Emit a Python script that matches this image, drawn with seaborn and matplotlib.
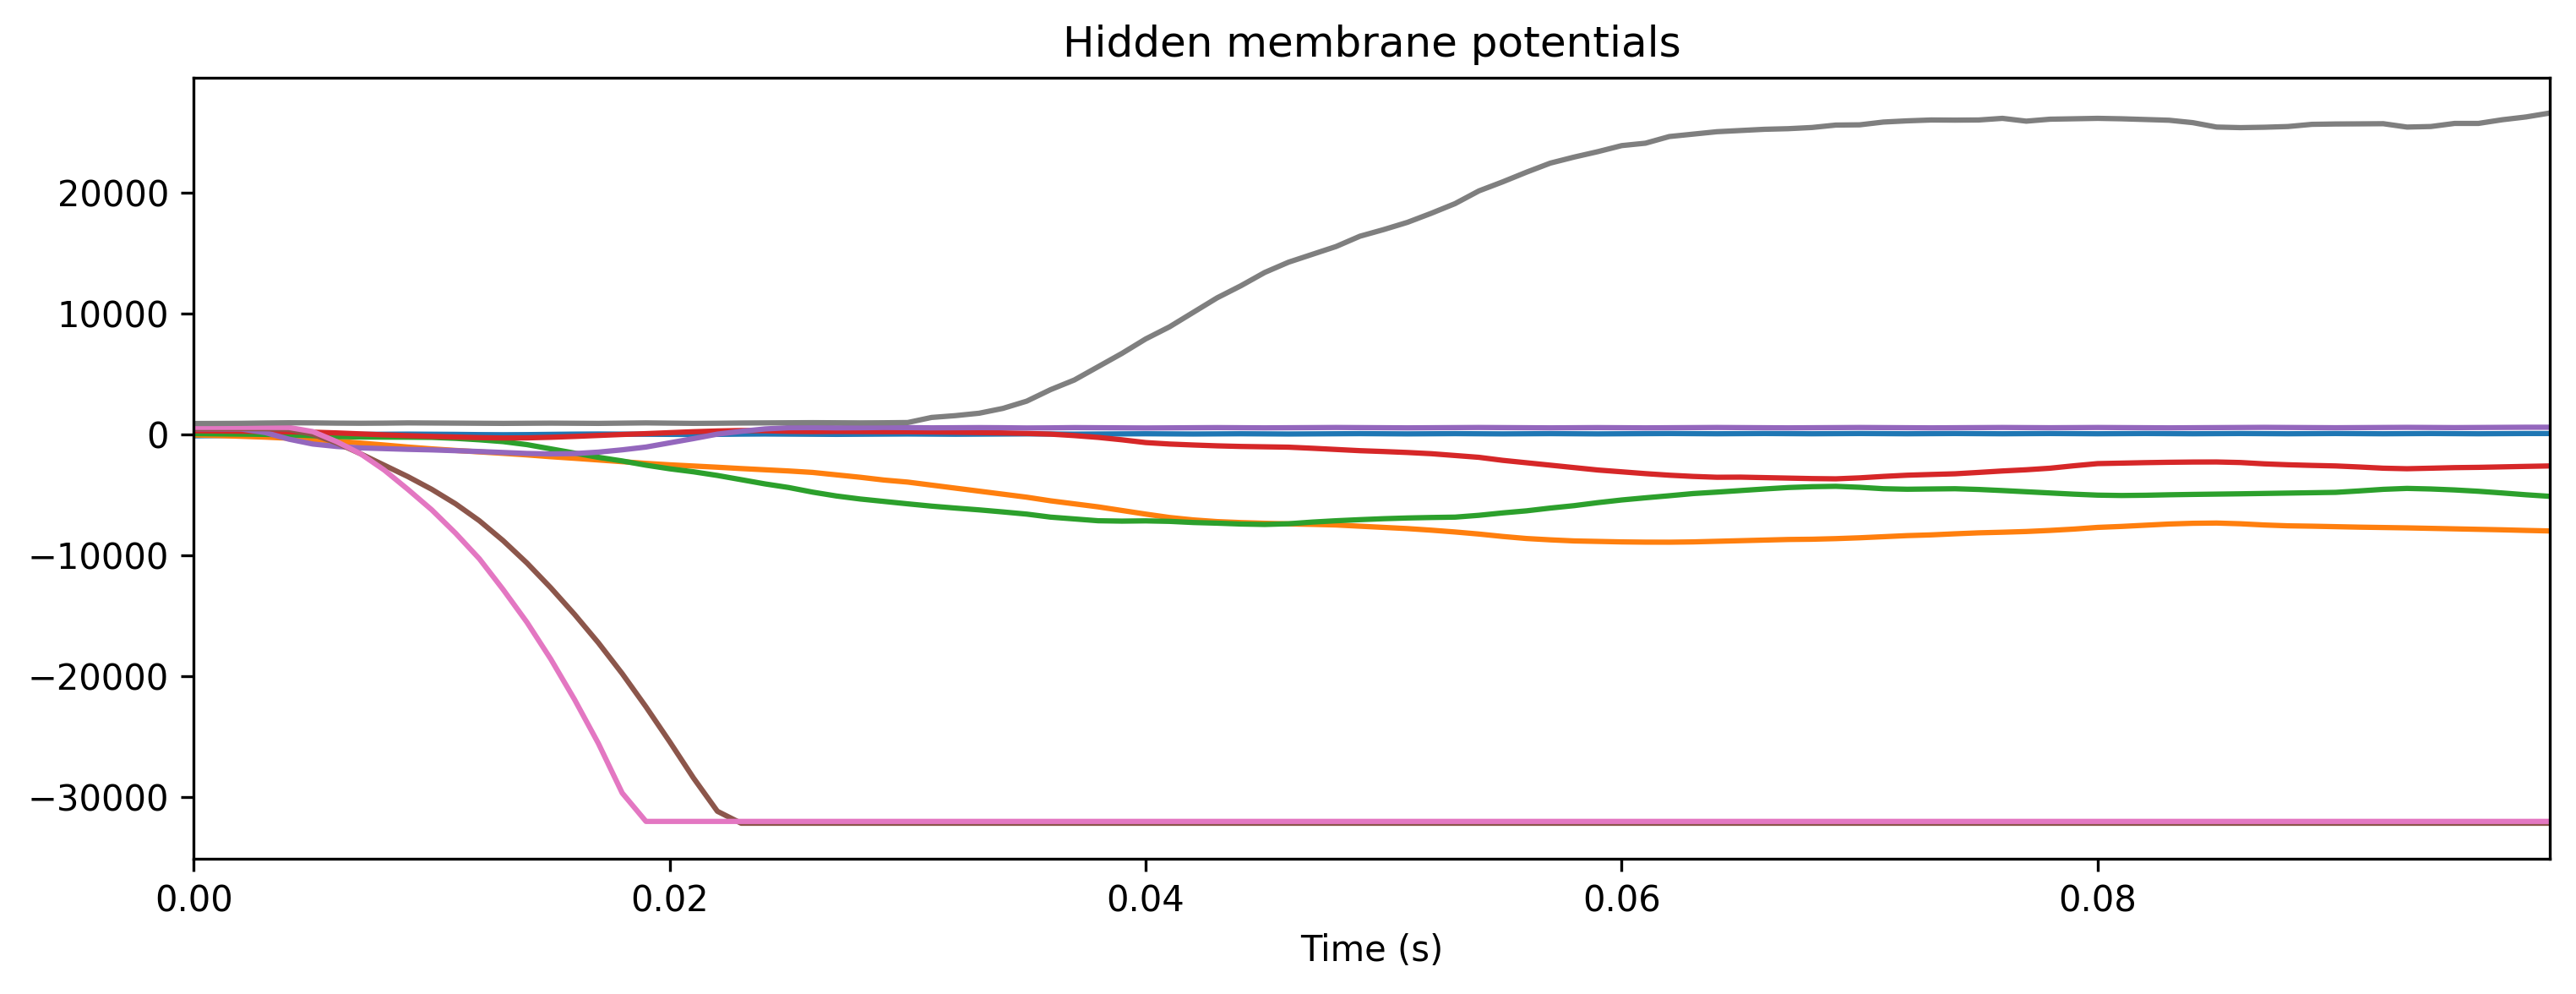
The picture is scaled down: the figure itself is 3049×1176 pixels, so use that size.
import numpy as np
import pandas as pd
import matplotlib
matplotlib.use("Agg")
import matplotlib.pyplot as plt
import seaborn as sns

time_s = [round(i * 0.001, 3) for i in range(100)]

neuron_names = ["n0", "n1", "n2", "n3", "n4", "n5", "n6", "n7"]
neuron_colors = ["#1f77b4", "#ff7f0e", "#2ca02c", "#d62728",
                 "#9467bd", "#8c564b", "#e377c2", "#7f7f7f"]

v_n0 = [-120, -100, -80, -60, -40, -20, -10, 0, 10, 20,
        10, 0, -20, -30, -20, 0, 20, 30, 20, 10,
        0, -10, 0, 20, 30, 20, 10, 0, 10, 20,
        30, 20, 10, 20, 30, 40, 30, 20, 30, 40,
        50, 40, 30, 40, 50, 40, 30, 40, 50, 60,
        50, 40, 50, 60, 50, 40, 50, 60, 50, 40,
        50, 60, 70, 60, 50, 60, 70, 60, 50, 60,
        70, 60, 50, 60, 70, 60, 50, 60, 70, 60,
        50, 60, 70, 60, 50, 60, 70, 60, 50, 60,
        70, 60, 50, 60, 70, 60, 50, 60, 70, 70]

v_n1 = [-50, -100, -160, -230, -320, -420, -560, -720, -880, -1050,
        -1200, -1330, -1450, -1570, -1700, -1850, -1980, -2120, -2260, -2400,
        -2520, -2620, -2720, -2830, -2930, -3030, -3150, -3350, -3550, -3780,
        -3950, -4200, -4450, -4700, -4950, -5200, -5500, -5750, -6000, -6300,
        -6600, -6880, -7080, -7220, -7300, -7360, -7410, -7450, -7500, -7600,
        -7700, -7800, -7930, -8080, -8250, -8450, -8620, -8730, -8820, -8860,
        -8900, -8920, -8924, -8900, -8850, -8800, -8750, -8700, -8680, -8630,
        -8560, -8470, -8380, -8320, -8230, -8150, -8100, -8040, -7950, -7840,
        -7700, -7620, -7520, -7420, -7360, -7340, -7400, -7500, -7570, -7600,
        -7640, -7680, -7710, -7740, -7780, -7820, -7860, -7900, -7950, -7994]

v_n2 = [60, 40, 20, 0, -40, -110, -180, -220, -230, -235,
        -250, -330, -450, -600, -850, -1200, -1550, -1900, -2200, -2550,
        -2850, -3100, -3400, -3750, -4100, -4400, -4780, -5100, -5350, -5550,
        -5750, -5940, -6100, -6250, -6420, -6600, -6850, -7000, -7150, -7180,
        -7160, -7200, -7295, -7350, -7420, -7456, -7400, -7260, -7150, -7060,
        -6980, -6920, -6880, -6850, -6700, -6500, -6330, -6100, -5900, -5650,
        -5430, -5250, -5080, -4900, -4780, -4650, -4520, -4400, -4330, -4300,
        -4380, -4500, -4542, -4520, -4500, -4560, -4650, -4750, -4850, -4950,
        -5030, -5060, -5040, -5000, -4970, -4945, -4920, -4890, -4860, -4830,
        -4800, -4680, -4550, -4473, -4520, -4600, -4710, -4850, -5000, -5129]

v_n3 = [300, 280, 260, 240, 210, 180, 120, 40, -40, -110,
        -170, -220, -270, -300, -290, -240, -170, -90, -10, 60,
        140, 220, 280, 320, 300, 250, 230, 240, 230, 220,
        220, 200, 180, 150, 120, 80, 20, -100, -250, -450,
        -680, -800, -880, -950, -1000, -1030, -1060, -1150, -1250, -1350,
        -1420, -1500, -1600, -1750, -1900, -2150, -2350, -2550, -2750, -2950,
        -3100, -3250, -3380, -3480, -3550, -3540, -3580, -3620, -3660, -3680,
        -3600, -3480, -3380, -3320, -3264, -3150, -3030, -2930, -2800, -2600,
        -2420, -2380, -2340, -2310, -2290, -2285, -2330, -2440, -2516, -2570,
        -2614, -2700, -2800, -2844, -2800, -2753, -2730, -2690, -2650, -2614]

v_n4 = [460, 450, 440, 150, -400, -800, -1000, -1120, -1180, -1240,
        -1285, -1350, -1420, -1500, -1580, -1620, -1590, -1470, -1280, -1050,
        -700, -350, 20, 250, 450, 550, 560, 540, 550, 570,
        560, 540, 550, 560, 550, 530, 540, 560, 550, 540,
        530, 540, 550, 560, 550, 540, 550, 560, 570, 560,
        550, 540, 550, 560, 570, 560, 550, 540, 550, 560,
        550, 540, 550, 560, 570, 560, 550, 540, 550, 560,
        570, 560, 550, 540, 550, 560, 570, 560, 550, 560,
        570, 560, 550, 540, 550, 560, 570, 580, 570, 560,
        550, 560, 570, 580, 570, 560, 570, 580, 590, 590]

v_n5 = [480, 480, 480, 470, 420, 0, -700, -1600, -2550, -3500,
        -4550, -5750, -7150, -8800, -10650, -12700, -14900, -17250, -19800, -22550,
        -25450, -28450, -31195, -32187, -32187, -32187, -32187, -32187, -32187, -32187,
        -32187, -32187, -32187, -32187, -32187, -32187, -32187, -32187, -32187, -32187,
        -32187, -32187, -32187, -32187, -32187, -32187, -32187, -32187, -32187, -32187,
        -32187, -32187, -32187, -32187, -32187, -32187, -32187, -32187, -32187, -32187,
        -32187, -32187, -32187, -32187, -32187, -32187, -32187, -32187, -32187, -32187,
        -32187, -32187, -32187, -32187, -32187, -32187, -32187, -32187, -32187, -32187,
        -32187, -32187, -32187, -32187, -32187, -32187, -32187, -32187, -32187, -32187,
        -32187, -32187, -32187, -32187, -32187, -32187, -32187, -32187, -32187, -32187]

v_n6 = [580, 580, 580, 580, 570, 230, -600, -1600, -2950, -4560,
        -6250, -8180, -10300, -12850, -15560, -18600, -21950, -25580, -29680, -32034,
        -32034, -32034, -32034, -32034, -32034, -32034, -32034, -32034, -32034, -32034,
        -32034, -32034, -32034, -32034, -32034, -32034, -32034, -32034, -32034, -32034,
        -32034, -32034, -32034, -32034, -32034, -32034, -32034, -32034, -32034, -32034,
        -32034, -32034, -32034, -32034, -32034, -32034, -32034, -32034, -32034, -32034,
        -32034, -32034, -32034, -32034, -32034, -32034, -32034, -32034, -32034, -32034,
        -32034, -32034, -32034, -32034, -32034, -32034, -32034, -32034, -32034, -32034,
        -32034, -32034, -32034, -32034, -32034, -32034, -32034, -32034, -32034, -32034,
        -32034, -32034, -32034, -32034, -32034, -32034, -32034, -32034, -32034, -32034]

v_n7 = [900, 905, 915, 940, 960, 950, 930, 920, 930, 950,
        940, 930, 920, 910, 920, 930, 920, 910, 930, 950,
        930, 910, 920, 940, 950, 960, 970, 960, 950, 960,
        980, 1400, 1550, 1750, 2150, 2750, 3700, 4500, 5600, 6700,
        7900, 8900, 10100, 11300, 12300, 13400, 14250, 14900, 15550, 16400,
        16950, 17550, 18300, 19100, 20150, 20900, 21700, 22450, 22950, 23400,
        23900, 24100, 24650, 24850, 25050, 25150, 25250, 25300, 25400, 25600,
        25620, 25850, 25950, 26020, 26010, 26020, 26156, 25924, 26086, 26120,
        26156, 26120, 26060, 26000, 25800, 25435, 25388, 25420, 25480, 25660,
        25690, 25700, 25713, 25435, 25480, 25737, 25737, 26040, 26272, 26597]

series = [v_n0, v_n1, v_n2, v_n3, v_n4, v_n5, v_n6, v_n7]

frames = []
for name, vals in zip(neuron_names, series):
    frames.append(pd.DataFrame({"Time (s)": time_s, "v": vals, "neuron": name}))
df = pd.concat(frames, ignore_index=True)

fig, ax = plt.subplots(figsize=(3049 / 300, 1176 / 300), dpi=300)
sns.lineplot(data=df, x="Time (s)", y="v", hue="neuron", hue_order=neuron_names,
             palette=neuron_colors, estimator=None, legend=False, linewidth=1.5, ax=ax)
ax.set_xlim(time_s[0], time_s[-1])
ax.set_ylabel("")
ax.set_xlabel("Time (s)")
ax.set_title("Hidden membrane potentials")
fig.subplots_adjust(left=229.4 / 3049, right=3018 / 3049, top=1 - 91.7 / 1176, bottom=1 - 1016 / 1176)
fig.savefig("out.png", dpi=300)
